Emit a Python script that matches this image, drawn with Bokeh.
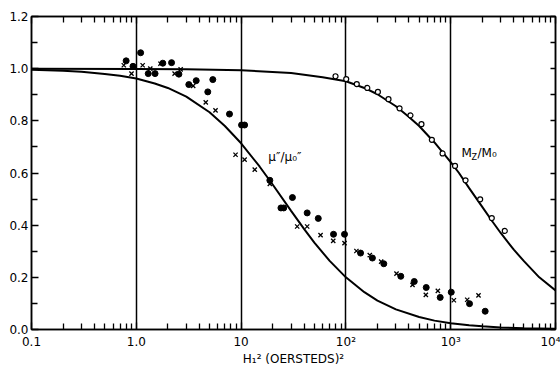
from bokeh.plotting import figure
from bokeh.models import FixedTicker, LogAxis, LinearAxis, Label, PrintfTickFormatter
from bokeh.embed import file_html
from bokeh.resources import INLINE

# ---- data ----
# theoretical curve for Mz/M0
mz_curve_x = [0.1, 1, 3, 10, 30, 60, 100, 150, 200, 300, 400, 500, 700, 1000, 1200, 1500, 2000, 2500, 3000,
              4000, 5000, 7000, 10000]
mz_curve_y = [1.0, 0.999, 0.998, 0.994, 0.983, 0.967, 0.952, 0.926, 0.902, 0.856, 0.815, 0.78, 0.717, 0.642, 0.6,
              0.542, 0.47, 0.414, 0.37, 0.306, 0.262, 0.2, 0.15]
# theoretical curve for mu''/mu0''
mu_curve_x = [0.1, 0.2, 0.3, 0.5, 0.7, 1, 1.5, 2, 3, 5, 7, 10, 15, 20, 30, 40, 50, 70, 100, 150, 200, 300,
              500, 700, 1000, 1500, 2000, 3000, 5000, 10000]
mu_curve_y = [0.996, 0.992, 0.988, 0.98, 0.973, 0.962, 0.943, 0.926, 0.893, 0.833, 0.78, 0.714, 0.625, 0.556,
              0.455, 0.385, 0.333, 0.263, 0.2, 0.143, 0.111, 0.077, 0.048, 0.034, 0.024, 0.016, 0.012, 0.008,
              0.005, 0.0025]

# filled circles
dot_x = [0.80, 0.93, 1.10, 1.30, 1.51, 1.79, 2.17, 2.55, 3.17, 3.73, 4.81, 5.37, 7.75, 10.1, 10.8,
         18.8, 24.0, 25.5, 30.9, 42.7, 54.5, 76.2, 97, 138, 179, 230, 334, 449, 584, 794, 1012, 1512, 2133]
dot_y = [1.03, 1.009, 1.061, 0.981, 0.981, 1.021, 1.023, 0.979, 0.939, 0.954, 0.911, 0.958, 0.826, 0.784, 0.784,
         0.572, 0.466, 0.466, 0.506, 0.447, 0.426, 0.365, 0.365, 0.293, 0.274, 0.252, 0.204, 0.184, 0.161, 0.123, 0.143, 0.099, 0.070]

# crosses
crs_x = [0.76, 0.90, 1.15, 1.36, 1.70, 2.32, 2.65, 3.49, 4.6, 5.7, 8.85, 10.8, 13.5, 18.8, 34.3, 42.7, 57.3,
         75.7, 97, 126, 169, 217, 304, 432, 579, 754, 1072, 1438, 1842]
crs_y = [1.013, 0.981, 1.013, 1.0, 1.019, 0.981, 0.997, 0.934, 0.871, 0.840, 0.670, 0.651, 0.613, 0.558, 0.395, 0.395, 0.362,
         0.340, 0.331, 0.301, 0.285, 0.260, 0.214, 0.171, 0.133, 0.148, 0.112, 0.114, 0.131]

# open circles (Mz/M0)
ring_x = [79.6, 100.7, 127, 160, 202, 255, 325, 413, 526, 661, 836, 1100, 1385, 1911, 2466, 3281]
ring_y = [0.971, 0.960, 0.941, 0.926, 0.911, 0.883, 0.848, 0.821, 0.787, 0.727, 0.675, 0.627, 0.572, 0.499, 0.427, 0.378]

x_major = [0.1, 1, 10, 100, 1000, 10000]
x_labels = {0.1: "0.1", 1: "1.0", 10: "10", 100: "10²", 1000: "10³", 10000: "10⁴"}
grid_x = [1, 10, 100, 1000]
y_major = [0.0, 0.2, 0.4, 0.6, 0.8, 1.0, 1.2]
y_minor = [0.1, 0.3, 0.5, 0.7, 0.9, 1.1]

FONT = "DejaVu Sans"

x_minor = [m * 10.0 ** e for e in range(-1, 4) for m in range(2, 10)]

p = figure(width=560, height=368, x_axis_type="log", x_range=(0.1, 10000), y_range=(0, 1.2),
           output_backend="svg", toolbar_location=None,
           min_border_left=31, min_border_right=5, min_border_top=16, min_border_bottom=37)
p.background_fill_color = "white"
p.border_fill_color = "white"
p.outline_line_color = "black"
p.outline_line_width = 1.5

# grids
p.ygrid.visible = False
p.xgrid.ticker = FixedTicker(ticks=grid_x)
p.xgrid.grid_line_color = "black"
p.xgrid.grid_line_width = 1.5

def style_axis(ax, labels=True):
    ax.axis_line_color = "black"
    ax.axis_line_width = 1.5
    ax.major_tick_line_color = "black"
    ax.minor_tick_line_color = "black"
    ax.major_tick_line_width = 1.3
    ax.minor_tick_line_width = 1.3
    ax.major_tick_out = 0
    ax.minor_tick_out = 0
    ax.major_tick_in = 7
    ax.minor_tick_in = 6
    ax.major_label_text_font = FONT
    if labels:
        ax.major_label_text_font_size = "12px"
        ax.major_label_text_color = "black"
    else:
        ax.major_label_text_font_size = "1px"
        ax.major_label_text_alpha = 0

# bottom axis
xb = p.xaxis[0]
xb.ticker = FixedTicker(ticks=x_major, minor_ticks=x_minor)
xb.major_label_overrides = x_labels
style_axis(xb)
xb.major_label_standoff = 5
xb.axis_label = "H₁² (OERSTEDS)²"
xb.axis_label_text_font = FONT
xb.axis_label_text_font_size = "12px"
xb.axis_label_text_font_style = "normal"
xb.axis_label_text_color = "black"
xb.axis_label_standoff = 0

# left axis
yl = p.yaxis[0]
yl.ticker = FixedTicker(ticks=y_major, minor_ticks=y_minor)
yl.formatter = PrintfTickFormatter(format="%.1f")
style_axis(yl)
yl.major_label_standoff = 3

# top axis
xt = LogAxis(ticker=FixedTicker(ticks=x_major, minor_ticks=x_minor))
style_axis(xt, labels=False)
xt.major_label_standoff = 0
p.add_layout(xt, "above")

# right axis
yr = LinearAxis(ticker=FixedTicker(ticks=y_major, minor_ticks=y_minor))
style_axis(yr, labels=False)
yr.major_tick_in = 5
yr.minor_tick_in = 5
yr.major_label_standoff = 0
p.add_layout(yr, "right")

# curves
p.line(mz_curve_x, mz_curve_y, line_color="black", line_width=2)
p.line(mu_curve_x, mu_curve_y, line_color="black", line_width=2)

# points
p.scatter(dot_x, dot_y, marker="circle", size=6, fill_color="black", line_color="black")
p.scatter(crs_x, crs_y, marker="x", size=6, line_color="black", line_width=1.3)
p.scatter(ring_x, ring_y, marker="circle", size=5, fill_color="white", line_color="black", line_width=1.2)

# annotations
p.add_layout(Label(x=18.2, y=0.662, text="μ″/μ₀″", text_font=FONT, text_font_size="12px",
                   text_baseline="middle", text_color="black"))
p.add_layout(Label(x=1268, y=0.676, text="M", text_font=FONT, text_font_size="12px",
                   text_baseline="middle", text_color="black"))
p.add_layout(Label(x=1268, y=0.676, x_offset=10, y_offset=-4, text="Z", text_font=FONT, text_font_size="8px",
                   text_baseline="middle", text_color="black"))
p.add_layout(Label(x=1268, y=0.676, x_offset=16, text="/M₀", text_font=FONT, text_font_size="12px",
                   text_baseline="middle", text_color="black"))

open("out.html", "w").write(file_html(p, INLINE))
